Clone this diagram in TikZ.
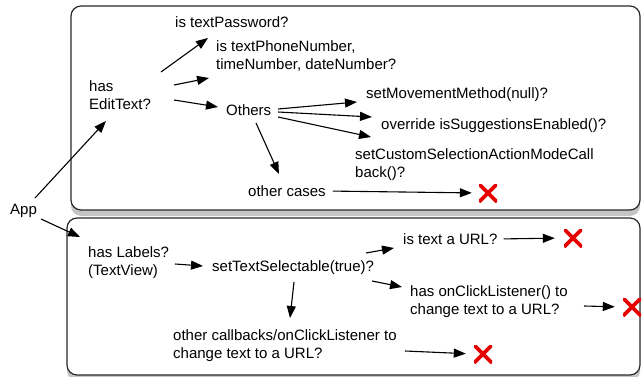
\documentclass[tikz,border=0pt]{standalone}
\usepackage{fontspec}
\setmainfont{Liberation Sans}
\usetikzlibrary{arrows.meta,shadows}
\definecolor{nogo}{RGB}{230,0,0}
\definecolor{frame}{RGB}{40,40,40}
\tikzset{
  panel/.style={draw=frame, line width=1.2pt, rounded corners=10pt, fill=white,
    drop shadow={shadow xshift=0pt, shadow yshift=-6pt, opacity=0.3, fill=black!75}},
  lbl/.style={anchor=west, inner sep=0pt, align=left, font=\fontsize{15}{18}\selectfont},
  arr/.style={draw=black, line width=1.1pt, -{Triangle[length=12pt,width=9pt]}},
  crossmark/.style={minimum size=18pt, inner sep=0pt,
    path picture={
      \draw[nogo, line width=3.6pt]
        (path picture bounding box.south west) -- (path picture bounding box.north east)
        (path picture bounding box.north west) -- (path picture bounding box.south east);
    }},
}
\begin{document}
\begin{tikzpicture}[x=1pt, y=-1pt]
\useasboundingbox (0,0) rectangle (642,377);

% the two panels
\node[panel, minimum width=569pt, minimum height=204pt] (editpanel) at (355.5,108) {};
\node[panel, minimum width=573pt, minimum height=157pt] (labelpanel) at (353.5,296.5) {};

% labels
\node[lbl] (app) at (10,211) {App};
\node[lbl] (edit) at (89,95) {has\\EditText?};
\node[lbl] (pwd) at (175,22) {is textPassword?};
\node[lbl] (phone) at (216,56.5) {is textPhoneNumber,\\timeNumber, dateNumber?};
\node[lbl] (others) at (226,110) {Others};
\node[lbl] (move) at (366,95) {setMovementMethod(null)?};
\node[lbl] (sugg) at (381,126) {override isSuggestionsEnabled()?};
\node[lbl] (cust) at (355,164.5) {setCustomSelectionActionModeCall\\back()?};
\node[lbl] (cases) at (248,191) {other cases};
\node[lbl] (labels) at (88,263) {has Labels?\\(TextView)};
\node[lbl] (sel) at (212,268) {setTextSelectable(true)?};
\node[lbl] (url) at (403,239) {is text a URL?};
\node[lbl] (click) at (410,302) {has onClickListener() to\\change text to a URL?};
\node[lbl] (cb) at (173,345.5) {other callbacks/onClickListener to\\change text to a URL?};

% rejection marks
\node[crossmark] (xcases) at (488,193) {};
\node[crossmark] (xurl) at (573,238) {};
\node[crossmark] (xclick) at (632,307) {};
\node[crossmark] (xcb) at (483,354) {};

% connector end points
\coordinate (appUp) at (35,198);    \coordinate (editIn) at (106,121);
\coordinate (appDn) at (41,219);    \coordinate (labelIn) at (80,237);
\coordinate (editA) at (161,72);    \coordinate (pwdIn) at (208,38);
\coordinate (editB) at (174,85);    \coordinate (phoneIn) at (209,78);
\coordinate (editC) at (174,100);   \coordinate (othersIn) at (218,107);
\coordinate (othA) at (278,109);    \coordinate (moveIn) at (357,102);
\coordinate (othB) at (278,112);    \coordinate (suggIn) at (372,117);
\coordinate (othC) at (278,117);    \coordinate (custIn) at (371,137);
\coordinate (othD) at (256,123);    \coordinate (casesIn) at (279,174);
\coordinate (labA) at (175,264);    \coordinate (selIn) at (203,266);
\coordinate (selA) at (366,253);    \coordinate (urlIn) at (394,248);
\coordinate (selB) at (372,281);    \coordinate (clickIn) at (402,287);
\coordinate (selC) at (294,282);    \coordinate (cbIn) at (290,318);
\coordinate (clickOut) at (584,306);
\coordinate (cbOut) at (405,351);

% connectors
\draw[arr] (appUp) -- (editIn);
\draw[arr] (appDn) -- (labelIn);
\draw[arr] (editA) -- (pwdIn);
\draw[arr] (editB) -- (phoneIn);
\draw[arr] (editC) -- (othersIn);
\draw[arr] (othA) -- (moveIn);
\draw[arr] (othB) -- (suggIn);
\draw[arr] (othC) -- (custIn);
\draw[arr] (othD) -- (casesIn);
\draw[arr, shorten <=7pt, shorten >=7pt] (cases.east) -- (xcases.west);
\draw[arr] (labA) -- (selIn);
\draw[arr] (selA) -- (urlIn);
\draw[arr] (selB) -- (clickIn);
\draw[arr] (selC) -- (cbIn);
\draw[arr, shorten <=6pt, shorten >=9pt] (url.east) -- (xurl.west);
\draw[arr, shorten >=8pt] (clickOut) -- (xclick.west);
\draw[arr, shorten >=8pt] (cbOut) -- (xcb.west);
\end{tikzpicture}
\end{document}
